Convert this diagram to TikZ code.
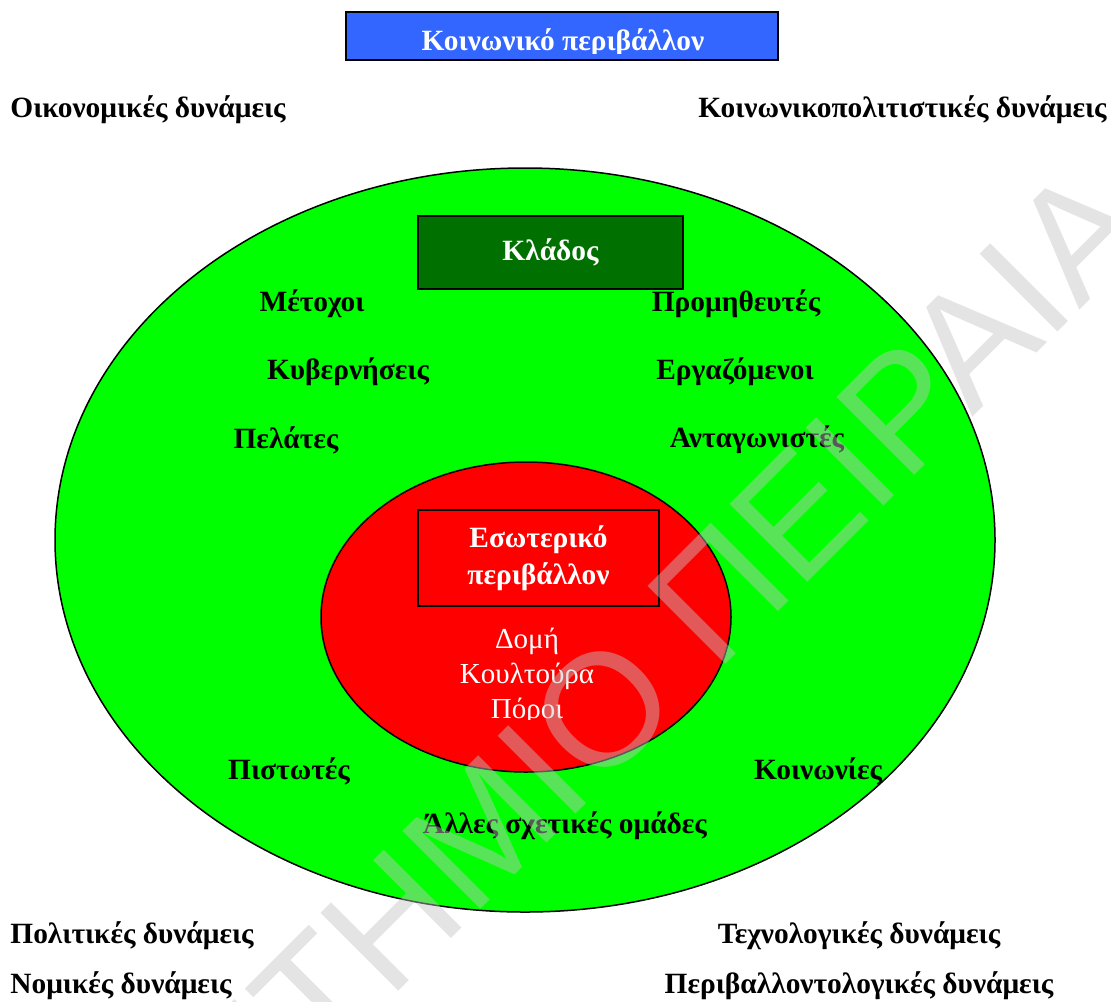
\documentclass[tikz,border=0pt]{standalone}
\usepackage{fontspec}
\setmainfont{Liberation Serif}
\newfontfamily\markfont{Liberation Sans}
\usepackage{xcolor}
\definecolor{socialblue}{RGB}{51, 102, 255}
\definecolor{industrygreen}{RGB}{0, 112, 0}
\definecolor{envgreen}{RGB}{0, 255, 0}
\definecolor{corered}{RGB}{255, 0, 0}
\definecolor{markgray}{RGB}{196, 196, 196}
\usetikzlibrary{positioning, shapes.geometric}

\begin{document}
\begin{tikzpicture}[
    x=0.5pt, y=-0.5pt,
    font=\fontsize{14.5}{17.5}\selectfont,
    force/.style={font=\fontsize{14.7}{17.5}\selectfont\bfseries, inner sep=0pt},
    actor/.style={font=\fontsize{14.7}{17.5}\selectfont\bfseries, inner sep=0pt},
    ring/.style={ellipse, draw=black, line width=0.75pt, inner sep=0pt},
    banner/.style={rectangle, draw=black, line width=1pt, inner sep=0pt, text=white, font=\fontsize{14.7}{18.5}\selectfont\bfseries, align=center}
]
    \useasboundingbox (0,0) rectangle (1111,1001);

    % rings
    \node[ring, fill=envgreen, minimum width=470pt, minimum height=372pt] (outer) at (525,540) {};
    \node[ring, fill=corered, minimum width=205pt, minimum height=155pt] (inner) at (526,617) {};

    % title boxes
    \node[banner, fill=socialblue, minimum width=216pt, minimum height=24pt] (social) at (562,36) {};
    \begin{scope}
        \clip (346,12) rectangle (778,53);
        \node[force, text=white, anchor=base] (socialtext) at (563,50) {Κοινωνικό περιβάλλον};
    \end{scope}
    \node[banner, fill=industrygreen, line width=0.75pt, minimum width=132.5pt, minimum height=36.5pt] (industry) at (550.5,252.5) {Κλάδος};
    \node[banner, fill=corered, minimum width=120.5pt, minimum height=48pt] (internal) at (538.5,558) {Εσωτερικό\\περιβάλλον};

    % external forces
    \node[force, anchor=west] (economic) at (10,110) {Οικονομικές δυνάμεις};
    \node[force, anchor=east] (sociocultural) at (1107,110) {Κοινωνικοπολιτιστικές δυνάμεις};
    \node[force, anchor=west] (political) at (10,936) {Πολιτικές δυνάμεις};
    \node[force, anchor=west] (legal) at (10,986) {Νομικές δυνάμεις};
    \node[force] (technological) at (859,936) {Τεχνολογικές δυνάμεις};
    \node[force] (ecological) at (859,986) {Περιβαλλοντολογικές δυνάμεις};

    % stakeholders
    \node[actor] (shareholders) at (312,304) {Μέτοχοι};
    \node[actor] (suppliers) at (736,304) {Προμηθευτές};
    \node[actor] (governments) at (348,372) {Κυβερνήσεις};
    \node[actor] (employees) at (735,372) {Εργαζόμενοι};
    \node[actor] (customers) at (286,440) {Πελάτες};
    \node[actor] (competitors) at (757,440) {Ανταγωνιστές};
    \node[actor] (creditors) at (289,771) {Πιστωτές};
    \node[actor] (communities) at (818,771) {Κοινωνίες};
    \node[actor] (others) at (565,826) {Άλλες σχετικές ομάδες};

    % internal resources
    \begin{scope}
        \clip (inner.west |- 0,615) rectangle (inner.east |- 0,719);
        \node[align=center, text=white, inner sep=0pt, anchor=base] (resources) at (527,718) {Δομή\\Κουλτούρα\\Πόροι};
    \end{scope}

    % watermark
    \begin{scope}
        \clip (0,0) rectangle (1111,1001);
        \node[font=\markfont\fontsize{80}{80}\selectfont, text=markgray, opacity=0.46, inner sep=0pt, rotate=45, anchor=base east] (mark) at (1155,235) {ΠΑΝΕΠΙΣΤΗΜΙΟ ΠΕΙΡΑΙΑ};
    \end{scope}
\end{tikzpicture}
\end{document}
